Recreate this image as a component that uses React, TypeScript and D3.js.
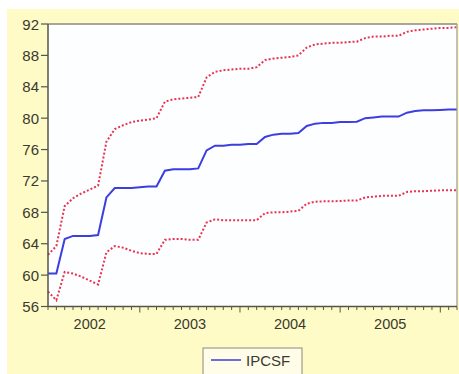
import React from "react";
import * as d3 from "d3";

const startMonth = new Date(2001, 7, 1); // 2001M08
const endMonth = new Date(2005, 8, 1); // 2005M09

const ipcsf = [
  60.2, 60.2, 64.6, 65.0, 65.0, 65.0, 65.1, 69.9, 71.1, 71.1,
  71.1, 71.2, 71.3, 71.3, 73.3, 73.5, 73.5, 73.5, 73.6, 75.9,
  76.5, 76.5, 76.6, 76.6, 76.7, 76.7, 77.6, 77.9, 78.0, 78.0,
  78.1, 79.0, 79.3, 79.4, 79.4, 79.5, 79.5, 79.55, 80.0, 80.1,
  80.2, 80.2, 80.2, 80.7, 80.9, 81.0, 81.0, 81.05, 81.1, 81.1,
];

const upper = [
  62.6, 63.7, 68.8, 69.8, 70.4, 70.9, 71.4, 77.0, 78.6, 79.1,
  79.5, 79.7, 79.8, 80.0, 82.1, 82.4, 82.5, 82.6, 82.7, 85.2,
  85.9, 86.1, 86.2, 86.3, 86.3, 86.5, 87.4, 87.6, 87.7, 87.8,
  88.0, 89.0, 89.4, 89.5, 89.6, 89.6, 89.7, 89.75, 90.2, 90.4,
  90.4, 90.5, 90.5, 91.0, 91.2, 91.3, 91.4, 91.5, 91.5, 91.6,
];

const lower = [
  57.9, 56.8, 60.4, 60.2, 59.8, 59.3, 58.8, 62.9, 63.7, 63.5,
  63.1, 62.8, 62.7, 62.7, 64.5, 64.6, 64.6, 64.5, 64.5, 66.7,
  67.1, 67.0, 67.0, 67.0, 67.0, 67.0, 67.9, 68.0, 68.0, 68.1,
  68.2, 69.1, 69.35, 69.4, 69.4, 69.45, 69.5, 69.5, 69.9, 70.0,
  70.1, 70.1, 70.1, 70.6, 70.7, 70.7, 70.75, 70.8, 70.8, 70.8,
];

const yTicks = [56, 60, 64, 68, 72, 76, 80, 84, 88, 92];
const yearLabels = ["2002", "2003", "2004", "2005"];
const legendLabel = "IPCSF";

export default function App() {
  const W = 459;
  const H = 374;
  const left = 48;
  const right = 457;
  const top = 24;
  const bottom = 306.5;

  const months = d3.timeMonth.range(startMonth, d3.timeMonth.offset(endMonth, 1));
  const idx = d3.scaleLinear().domain([0, months.length - 1]).range([left, right]);
  const y = d3.scaleLinear().domain([56, 92]).range([bottom, top]);

  const line = d3
    .line<number>()
    .x((_, i) => idx(i))
    .y((d) => y(d));

  const font = "'Liberation Sans', Arial, sans-serif";
  const textColor = "#3a3a30";

  return (
    <svg
      width={W}
      height={H}
      style={{ position: "absolute", left: 0, top: 0 }}
    >
      <rect x={0} y={0} width={W} height={H} fill="#ffffff" />
      <rect x={7} y={9} width={W - 7} height={H - 9} fill="#fffbc6" />
      <rect x={left} y={top} width={right - left} height={bottom - top} fill="#fdfeff" />

      {/* series */}
      <path d={line(upper) || ""} fill="none" stroke="#e8344e" strokeWidth={2} strokeDasharray="2,2" />
      <path d={line(lower) || ""} fill="none" stroke="#e8344e" strokeWidth={2} strokeDasharray="2,2" />
      <path d={line(ipcsf) || ""} fill="none" stroke="#3d3de0" strokeWidth={2} />

      {/* frame */}
      <line x1={left} x2={right} y1={top} y2={top} stroke="#8a8a80" strokeWidth={1.5} />
      <line x1={right} x2={right} y1={top} y2={bottom} stroke="#9a9a90" strokeWidth={1.2} />
      <line x1={left} x2={left} y1={top} y2={bottom} stroke="#55554a" strokeWidth={1.5} />
      <line x1={left} x2={right} y1={bottom} y2={bottom} stroke="#55554a" strokeWidth={1.5} />

      {/* y axis */}
      {yTicks.map((t) => (
        <g key={t}>
          <line x1={left - 7} x2={left} y1={y(t)} y2={y(t)} stroke="#55554a" strokeWidth={1.2} />
          <text
            x={left - 9}
            y={y(t)}
            textAnchor="end"
            dominantBaseline="central"
            fontFamily={font}
            fontSize={15}
            fill={textColor}
          >
            {t}
          </text>
        </g>
      ))}

      {/* x axis ticks */}
      {months.map((m, i) => {
        const major = m.getMonth() === 6;
        return (
          <line
            key={i}
            x1={idx(i)}
            x2={idx(i)}
            y1={bottom}
            y2={bottom + (major ? 6 : 3.5)}
            stroke="#55554a"
            strokeWidth={1}
          />
        );
      })}
      {months.map((m, i) =>
        m.getMonth() === 0 && yearLabels.includes(String(m.getFullYear())) ? (
          <text
            key={"l" + i}
            x={idx(i)}
            y={324}
            textAnchor="middle"
            dominantBaseline="central"
            fontFamily={font}
            fontSize={14.5}
            fill={textColor}
          >
            {m.getFullYear()}
          </text>
        ) : null
      )}

      {/* legend */}
      <rect x={203} y={348} width={99} height={30} fill="#fffde8" stroke="#8a8a80" strokeWidth={1} />
      <line x1={211} x2={241} y1={360} y2={360} stroke="#3d3de0" strokeWidth={1.5} />
      <text
        x={246}
        y={360.5}
        dominantBaseline="central"
        fontFamily={font}
        fontSize={15}
        fill={textColor}
      >
        {legendLabel}
      </text>
    </svg>
  );
}
